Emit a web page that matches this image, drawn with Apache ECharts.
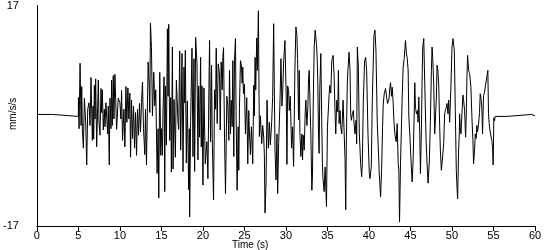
<!DOCTYPE html>
<html>
<head>
<meta charset="utf-8">
<script src="https://cdn.jsdelivr.net/npm/echarts@6/dist/echarts.min.js"></script>
<style>
  html, body { margin: 0; padding: 0; background: #fff; }
  #chart { width: 550px; height: 250px; }
</style>
</head>
<body>
<div id="chart"></div>
<script>
// Time (s) of each sample
var times = [
  0, 1.9, 1.9, 5.0,
  5.0, 5.08, 5.2, 5.32, 5.4, 5.48, 5.6, 5.72, 5.88, 6.0, 6.12, 6.28, 6.4, 6.52, 6.68, 6.76, 6.84, 6.92, 7.0, 7.08, 7.2, 7.4, 7.48, 7.6, 7.72, 7.8, 7.88, 8.0, 8.12, 8.2, 8.32, 8.52, 8.6, 8.72, 8.8, 8.92, 9.0, 9.08, 9.2, 9.28, 9.4, 9.6, 9.8, 10.0, 10.12,
  10.2, 10.32, 10.48, 10.6, 10.72, 10.84, 10.96, 11.08, 11.2, 11.28, 11.4, 11.52, 11.64, 11.76, 11.88, 12.0, 12.12, 12.24, 12.36, 12.48, 12.6, 12.72, 12.84, 13.0, 13.08, 13.2, 13.4, 13.52, 13.6, 13.68, 13.8, 13.92, 14.08, 14.2, 14.32, 14.48, 14.6, 14.68, 14.8, 14.92,
  15.0, 15.12, 15.2, 15.32, 15.4, 15.48, 15.6, 15.72, 15.8, 15.88, 16.0, 16.12, 16.2, 16.32, 16.4, 16.52, 16.68, 16.8, 16.92, 17.0, 17.08, 17.2, 17.32, 17.48, 17.6, 17.72, 17.8, 17.88, 18.0, 18.12, 18.28, 18.36, 18.4, 18.52, 18.68, 18.8, 18.92, 19.0, 19.12, 19.28, 19.4, 19.48, 19.6, 19.72, 19.8, 19.88, 20.0, 20.12, 20.28,
  20.48, 20.6, 20.72, 20.8, 20.92, 21.04, 21.12, 21.28, 21.4, 21.52, 21.6, 21.72, 21.84, 22.0, 22.08, 22.2, 22.32, 22.4, 22.48, 22.6, 22.72, 22.88, 23.0, 23.12, 23.2, 23.32, 23.4, 23.52, 23.6, 23.72, 23.8, 23.92, 24.0, 24.12, 24.24, 24.32, 24.4, 24.52, 24.64, 24.72, 24.8, 24.88, 25.0, 25.12, 25.28, 25.4, 25.52, 25.6, 25.72, 25.84, 26.0,
  26.12, 26.2, 26.28, 26.36, 26.48, 26.56, 26.68, 26.8, 26.92, 27.08, 27.2, 27.32, 27.4, 27.48, 27.6, 27.72, 27.88, 28.0, 28.12, 28.28, 28.4, 28.52, 28.68, 28.8, 28.92, 29.0, 29.12, 29.28, 29.4, 29.52, 29.6, 29.72, 29.88, 30.04, 30.12, 30.2, 30.32, 30.4, 30.52, 30.68, 30.8, 30.92, 31.08, 31.2,
  31.32, 31.4, 31.52, 31.6, 31.68, 31.8, 31.92, 32.0, 32.08, 32.2, 32.32, 32.4, 32.52, 32.64, 32.72, 32.8, 32.92, 33.0, 33.12, 33.2, 33.28, 33.4, 33.52, 33.68, 33.76, 33.84, 33.92, 34.0, 34.08, 34.2, 34.32, 34.4, 34.48, 34.6, 34.72, 34.88, 35.0, 35.12, 35.2, 35.28, 35.4, 35.52, 35.68, 35.8, 35.92, 36.0, 36.12, 36.24, 36.32, 36.4, 36.52, 36.6, 36.72, 36.88, 37.0, 37.12, 37.2,
  37.28, 37.4, 37.48, 37.6, 37.72, 37.8, 37.88, 38.0, 38.12, 38.2, 38.32, 38.44, 38.52, 38.6, 38.72, 38.84, 39.0, 39.12, 39.2, 39.32, 39.48, 39.6, 39.72, 39.88, 40.04, 40.12, 40.28, 40.4, 40.6, 40.72, 40.84, 41.0, 41.12, 41.24, 41.4, 41.52, 41.64, 41.72, 41.84, 42.0, 42.12, 42.24, 42.4, 42.52,
  42.6, 42.72, 42.8, 42.92, 43.0, 43.12, 43.28, 43.4, 43.52, 43.6, 43.68, 43.8, 43.92, 44.0, 44.12, 44.24, 44.4, 44.52, 44.6, 44.72, 44.8, 44.92, 45.04, 45.2, 45.32, 45.44, 45.52, 45.6, 45.72, 45.84, 45.92, 46.0, 46.12, 46.2, 46.32, 46.4, 46.48, 46.6, 46.72, 46.88, 47.0, 47.12, 47.28, 47.4, 47.52, 47.6, 47.68, 47.8,
  47.92, 48.0, 48.12, 48.2, 48.28, 48.4, 48.52, 48.6, 48.72, 48.84, 49.0, 49.12, 49.2, 49.32, 49.4, 49.52, 49.6, 49.72, 49.88, 50.0, 50.12, 50.2, 50.28, 50.4, 50.52, 50.6, 50.68, 50.8, 50.88, 50.92, 51.0, 51.08, 51.2, 51.32, 51.4, 51.52, 51.64, 51.72, 51.8, 51.88, 52.0, 52.12, 52.2, 52.28, 52.4, 52.52, 52.6, 52.72, 52.8,
  52.92, 53.0, 53.08, 53.2, 53.32, 53.4, 53.48, 53.6, 53.68, 53.8, 53.92, 54.0, 54.08, 54.2, 54.32, 54.4, 54.48, 54.6, 54.72, 54.8, 54.88, 54.96, 55.04, 55.12, 55.2,
  56.6, 56.6, 59.6, 59.6, 60
];
// Acceleration (mm/s/s) at each sample
var accel = [
  0.2, 0.2, -0.1, -0.1,
  2.8, -2.0, 8.1, -1.5, 4.5, -2.2, -5.0, 2.7, -1.0, -7.6, 1.0, 2.0, -1.5, 5.9, -3.8, 1.5, -3.6, 4.7, -0.5, 5.7, -4.8, 5.5, -1.0, -3.0, 4.2, 0.5, 4.0, -2.2, 1.0, -1.7, 2.0, -2.8, 1.5, -7.6, 2.7, -2.0, 5.5, -1.5, 6.2, -0.5, 6.4, -2.1, 2.7, 2.0, -0.5,
  3.9, -3.8, 1.0, -4.8, 4.5, -1.0, 4.3, -0.5, 3.5, -6.4, 2.4, -3.5, 1.5, -5.0, 0.5, -6.1, 1.0, -3.0, 1.9, -2.5, 2.0, 5.2, -2.0, -6.0, 1.0, -7.6, 8.3, 5.0, 0.5, 14.3, 10.5, 0.0, 6.7, 1.5, 4.0, -8.9, -2.0, -12.7, 6.7, -6.1,
  -2.0, -6.1, 1.3, 6.0, -11.7, 4.6, -4.5, 13.4, 3.0, 14.1, -3.8, 2.8, -8.7, 10.6, -8.2, 2.5, -6.4, 5.5, 5.2, -1.0, -2.1, 10.0, -5.3, 9.6, -8.6, 7.5, 2.0, 10.1, -7.3, 2.3, -11.4, -2.0, -15.6, -0.7, 10.4, -6.3, 8.8, -8.6, 12.1, 8.0, -6.8, 4.6, -3.3, 9.0, -4.8, 4.6, -10.7, 4.3, -7.4,
  -4.0, -9.7, 4.2, 11.6, -4.0, 7.8, -3.5, -13.0, 4.0, 1.0, 10.4, -1.2, 8.0, 6.5, -2.2, 8.3, 4.0, 9.0, 10.5, -3.3, -12.0, 3.0, 1.5, -3.8, 7.0, -2.8, 2.4, -1.7, 8.5, -6.3, 8.5, 11.9, -0.5, -11.5, -1.7, -8.4, 1.3, 8.5, 7.7, 5.0, 7.5, 3.4, 4.9, -2.8, 2.8, -7.4, 0.8, -2.5, -6.0, -1.7, -7.4,
  4.7, 0.0, 9.0, 4.0, 12.0, 7.0, 16.2, -3.2, 0.0, -4.3, -1.5, -3.3, -6.0, -15.0, -10.4, 2.4, -5.0, -1.0, -4.5, -1.0, 3.0, 14.2, -5.3, -9.9, -2.8, -12.0, -4.3, 2.1, 8.8, 1.5, 3.4, 8.3, 11.6, 2.4, -7.5, 4.6, 4.0, 0.8, 3.0, -5.0, -1.7, -7.8, 7.3, 13.7,
  12.4, 8.8, -0.6, 7.0, -2.6, -6.3, -2.8, -6.8, -3.0, -5.3, 0.6, 2.4, -1.5, 1.3, 5.7, 7.0, 6.7, -3.0, -11.5, -9.1, 1.3, 10.6, 13.2, 11.0, 9.0, 5.0, -2.8, -5.8, 4.2, 9.6, -1.7, -7.9, -10.0, -11.7, -7.9, -14.0, -1.7, -1.5, 3.2, 4.7, 3.5, 8.5, 9.3, 6.2, 0.3, -2.8, 2.4, 0.6, 7.0, -1.2, 0.8, -1.7, -2.8, 2.4, 2.2, -6.8, -14.5,
  -3.4, 5.5, 7.3, 9.8, 7.0, 0.3, -0.7, 0.3, 0.8, -1.2, -2.8, -0.7, -4.3, 10.6, 7.5, -2.8, -7.4, -9.4, -7.4, 2.4, 8.5, 9.0, 7.0, -2.8, -8.9, -9.7, -7.9, 2.4, 12.4, 13.2, 10.1, -1.2, -4.8, -8.9, -12.5, -8.4, -1.7, 1.8, 3.4, 4.2, 2.9, 1.9, 2.4, 4.4,
  5.1, 3.0, 4.4, 1.9, -0.7, -2.8, -4.0, -1.2, -7.4, -8.4, -16.4, -7.4, -7.4, 2.9, 7.5, 8.8, 11.6, 9.5, 9.0, 7.0, -0.2, -2.8, -6.3, -10.2, -6.8, -0.2, 5.1, 1.3, 0.3, 0.8, -1.0, 2.9, -2.8, -8.9, -2.0, 5.5, 10.6, 11.9, 4.9, -3.8, -7.4, -10.4, -6.8, -0.7, 7.0, 10.6, 9.0, 4.9,
  -2.8, -0.7, 2.9, 7.8, 7.3, 4.9, -1.7, -5.3, -8.4, -6.8, -4.3, 0.3, 0.8, 1.3, 1.9, 0.3, 2.4, -1.0, 4.9, 10.6, 11.9, 12.2, 10.1, 0.8, -8.4, -10.9, -12.8, -5.3, -2.8, 0.3, -1.7, -2.8, 0.3, 3.2, 2.4, 0.8, -3.3, 0.0, 6.0, 9.3, 7.0, 6.5, 5.5, 4.4, -0.2, -3.8, -7.4, -5.3, -2.8,
  -3.5, -1.5, -2.5, -1.3, 0.5, 3.4, 2.9, 1.2, -2.8, 3.1, 3.6, 4.4, 4.6, 6.0, 7.0, 0.3, -1.2, -2.5, -2.8, -3.8, -4.8, -7.6, -0.3, -0.8, -0.1,
  -0.1, 0.2, 0.2, 0.0, 0.0
];
var xTicks = [0, 5, 10, 15, 20, 25, 30, 35, 40, 45, 50, 55, 60];
var yTicks = [-17, 17];

var pts = [];
for (var i = 0; i < times.length; i++) pts.push([times[i], accel[i]]);

var FONT = 'Liberation Sans';
var chart = echarts.init(document.getElementById('chart'), null, {renderer: 'canvas'});
chart.setOption({
  animation: false,
  backgroundColor: '#ffffff',
  grid: { left: 35, right: 15, top: 5, bottom: 24 },
  xAxis: {
    type: 'value', min: 0, max: 60, interval: 5,
    axisLine: { show: true, onZero: false, lineStyle: { color: '#000', width: 1 } },
    axisTick: { show: true, inside: false, length: 5, lineStyle: { color: '#000' } },
    axisLabel: { color: '#000', fontFamily: FONT, fontSize: 11, margin: 4,
      formatter: function (v) { return xTicks.indexOf(v) >= 0 ? String(v) : ''; } },
    splitLine: { show: false }
  },
  yAxis: {
    type: 'value', min: -17, max: 17, interval: 17,
    axisLine: { show: true, onZero: false, lineStyle: { color: '#000', width: 1 } },
    axisTick: { show: false },
    axisLabel: { color: '#000', fontFamily: FONT, fontSize: 11, margin: 18,
      formatter: function (v) { return yTicks.indexOf(v) >= 0 ? String(v) : ''; } },
    splitLine: { show: false }
  },
  graphic: [
    { type: 'text', left: 232, top: 240,
      style: { text: 'Time (s)', fill: '#000', font: '10px "Liberation Sans"' } },
    { type: 'text', x: 8, y: 130, rotation: Math.PI / 2,
      style: { text: 'mm/s/s', fill: '#000', font: '10px "Liberation Sans"' } }
  ],
  series: [{
    type: 'line', data: pts, showSymbol: false, symbol: 'none',
    lineStyle: { color: '#000', width: 1 }, silent: true
  }]
});
</script>
</body>
</html>
